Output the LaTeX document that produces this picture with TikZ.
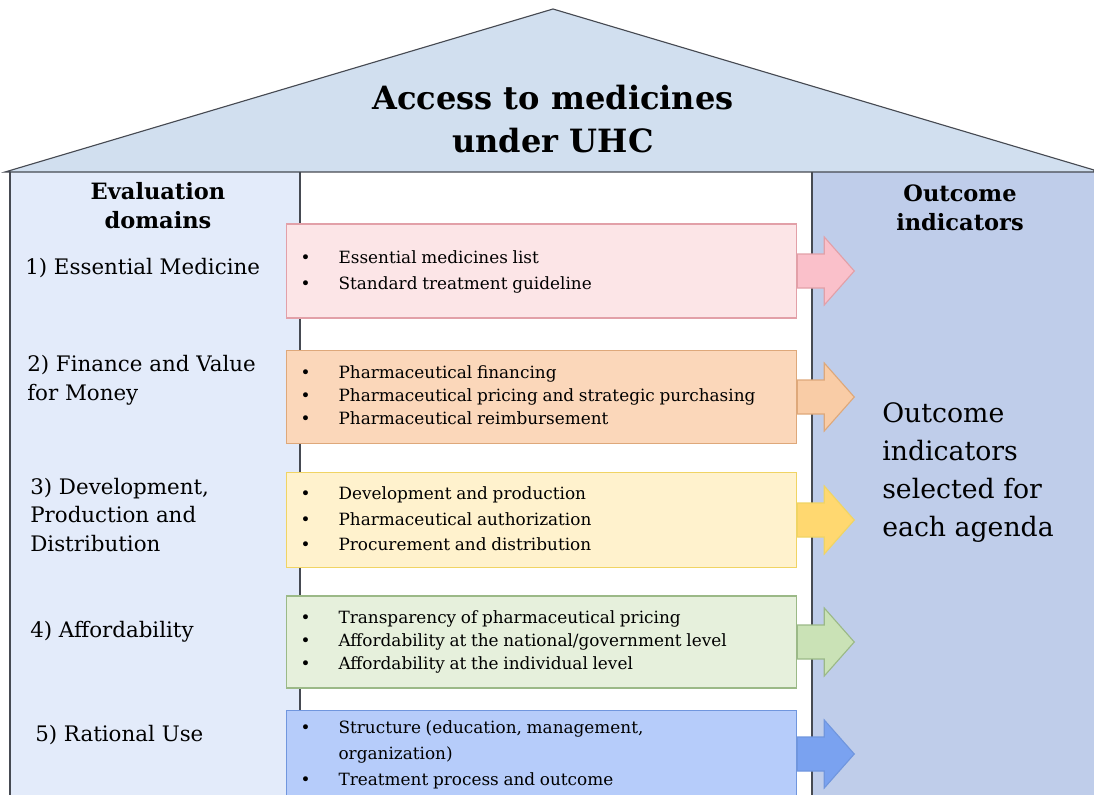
\documentclass[tikz,border=0pt]{standalone}
\usepackage{fontspec}
\setmainfont{DejaVu Serif}
\usetikzlibrary{positioning, calc}
\definecolor{RoofFill}{RGB}{209, 223, 239}
\definecolor{FrameGray}{RGB}{70, 74, 82}
\definecolor{DomainFill}{RGB}{227, 235, 250}
\definecolor{OutcomeFill}{RGB}{191, 205, 234}
\definecolor{PinkBox}{RGB}{252, 229, 231}
\definecolor{PinkLine}{RGB}{226, 160, 168}
\definecolor{PinkArrow}{RGB}{250, 192, 202}
\definecolor{OrangeBox}{RGB}{251, 215, 186}
\definecolor{OrangeLine}{RGB}{222, 168, 122}
\definecolor{OrangeArrow}{RGB}{249, 204, 166}
\definecolor{YellowBox}{RGB}{255, 242, 205}
\definecolor{YellowLine}{RGB}{240, 212, 100}
\definecolor{YellowArrow}{RGB}{255, 216, 112}
\definecolor{GreenBox}{RGB}{230, 240, 220}
\definecolor{GreenLine}{RGB}{155, 185, 135}
\definecolor{GreenArrow}{RGB}{202, 226, 182}
\definecolor{BlueBox}{RGB}{182, 204, 250}
\definecolor{BlueLine}{RGB}{112, 150, 222}
\definecolor{BlueArrow}{RGB}{122, 162, 240}

% rows of bullet points inside a box
\newcommand{\bulletrows}[2]{\fontsize{12}{#1}\selectfont
  \begin{tabular}{@{}p{0.95cm}@{}l@{}}#2\end{tabular}}
% block arrow leaving a box to the right
\newcommand{\outarrow}[3]{%
  \filldraw[fill=#2, draw=#3, line width=0.8pt]
    ($(#1.east)+(0,-17)$) -- ++(27,0) -- ++(0,-17) -- ++(30,34)
    -- ++(-30,34) -- ++(0,-17) -- ++(-27,0) -- cycle;}

\tikzset{
  rooftitle/.style={font=\fontsize{22.8}{30}\selectfont\bfseries, align=center},
  header/.style={font=\fontsize{16}{20.6}\selectfont\bfseries, align=center},
  domainlabel/.style={font=\fontsize{15.2}{20.6}\selectfont, align=left, anchor=west, inner sep=0pt},
  listbox/.style={line width=0.8pt, anchor=west, inner xsep=0.35cm,
    text width=12.05cm, align=left},
}

\begin{document}
\begin{tikzpicture}[x=0.025cm, y=-0.025cm]
  \useasboundingbox (0,0) rectangle (1094,795);

  % Columns
  \fill[DomainFill] (10,172) rectangle (300,795);
  \fill[OutcomeFill] (812,172) rectangle (1094,795);
  \draw[FrameGray, line width=0.8pt] (300,172) -- (300,795);
  \draw[FrameGray, line width=0.8pt] (812,172) -- (812,795);
  \draw[FrameGray, line width=1pt] (10,795) -- (10,172);

  % Roof
  \filldraw[fill=RoofFill, draw=FrameGray, line width=0.8pt]
    (5,172) -- (553,9) -- (1094,170) -- (1094,172) -- cycle;
  \node[rooftitle] (roof) at (553,119) {Access to medicines\\under UHC};

  % Column headers
  \node[header] (domhead) at (158,206) {Evaluation\\domains};
  \node[header] (outhead) at (960,208) {Outcome\\indicators};

  % Evaluation domains
  \node[domainlabel] (dom1) at (25,268) {1) Essential Medicine};
  \node[domainlabel] (dom2) at (27,380) {2) Finance and Value\\for Money};
  \node[domainlabel] (dom3) at (30,515) {3) Development,\\Production and\\Distribution};
  \node[domainlabel] (dom4) at (30,632) {4) Affordability};
  \node[domainlabel] (dom5) at (35,735) {5) Rational Use};

  % Agenda boxes
  \node[listbox, fill=PinkBox, draw=PinkLine, minimum height=2.35cm] (box1) at (286,271)
    {\bulletrows{18.5pt}{\textbullet & Essential medicines list\\
      \textbullet & Standard treatment guideline}};
  \node[listbox, fill=OrangeBox, draw=OrangeLine, minimum height=2.33cm] (box2) at (286,397)
    {\bulletrows{16.4pt}{\textbullet & Pharmaceutical financing\\
      \textbullet & Pharmaceutical pricing and strategic purchasing\\
      \textbullet & Pharmaceutical reimbursement}};
  \node[listbox, fill=YellowBox, draw=YellowLine, minimum height=2.38cm] (box3) at (286,520)
    {\bulletrows{18.2pt}{\textbullet & Development and production\\
      \textbullet & Pharmaceutical authorization\\
      \textbullet & Procurement and distribution}};
  \node[listbox, fill=GreenBox, draw=GreenLine, minimum height=2.3cm] (box4) at (286,642)
    {\bulletrows{16.4pt}{\textbullet & Transparency of pharmaceutical pricing\\
      \textbullet & Affordability at the national/government level\\
      \textbullet & Affordability at the individual level}};
  \node[listbox, fill=BlueBox, draw=BlueLine, minimum height=1.98cm] (box5) at (286,754)
    {\bulletrows{18.5pt}{\textbullet & Structure (education, management,\\
      & organization)\\
      \textbullet & Treatment process and outcome}};

  % Arrows into the outcome column
  \outarrow{box1}{PinkArrow}{PinkLine}
  \outarrow{box2}{OrangeArrow}{OrangeLine}
  \outarrow{box3}{YellowArrow}{YellowLine}
  \outarrow{box4}{GreenArrow}{GreenLine}
  \outarrow{box5}{BlueArrow}{BlueLine}

  % Outcome text
  \node[font=\fontsize{19}{27}\selectfont, align=left, anchor=west, inner sep=0pt]
    (outcome) at (882,473) {Outcome\\indicators\\selected for\\each agenda};
\end{tikzpicture}
\end{document}
